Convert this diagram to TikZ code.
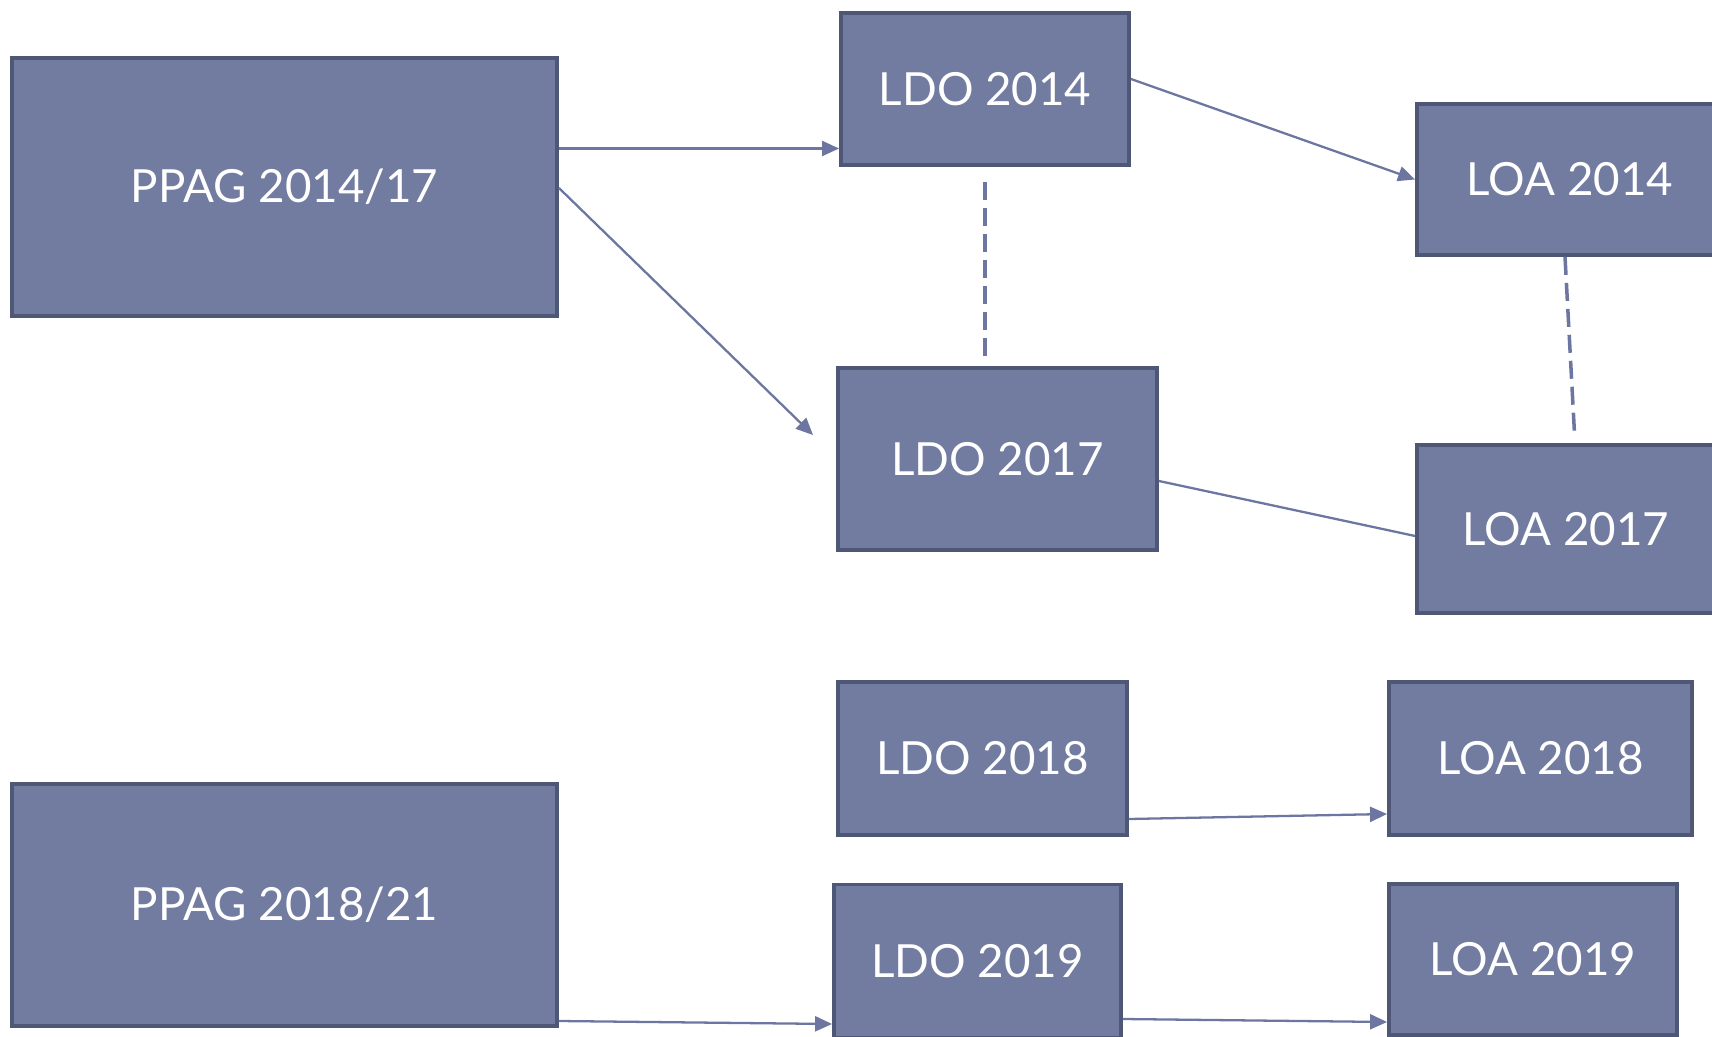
\documentclass[tikz,border=0pt]{standalone}
\usepackage{fontspec}
\setmainfont{Lato}
\usepackage{tikz}
\usetikzlibrary{arrows.meta, calc}
\definecolor{boxfill}{RGB}{114,123,160}
\definecolor{boxline}{RGB}{78,87,118}
\definecolor{linkcol}{RGB}{108,118,160}
\tikzset{>={Triangle[length=1.7mm, width=1.5mm]}}
\tikzset{
    planbox/.style={draw=boxline, fill=boxfill, line width=1.1pt, text=white,
        font=\fontsize{13}{16}\selectfont, inner sep=0pt},
    link/.style={draw=linkcol, line width=0.65pt},
    dashlink/.style={draw=linkcol, line width=1pt, dash pattern=on 1.8mm off 0.8mm}
}

\begin{document}
\begin{tikzpicture}
                \clip (0,0) rectangle (17.12,-10.37);

                \node[planbox, minimum width=5.45cm, minimum height=2.58cm] (ppag14) at (2.845,-1.87) {PPAG 2014/17};
                \node[planbox, minimum width=5.45cm, minimum height=2.42cm] (ppag18) at (2.845,-9.05) {PPAG 2018/21};

                \node[planbox, minimum width=2.88cm, minimum height=1.52cm] (ldo14) at (9.85,-0.89) {LDO 2014};
                \node[planbox, minimum width=3.19cm, minimum height=1.82cm] (ldo17) at (9.975,-4.59) {LDO 2017};
                \node[planbox, minimum width=2.89cm, minimum height=1.53cm] (ldo18) at (9.825,-7.585) {LDO 2018};
                \node[planbox, minimum width=2.87cm, minimum height=1.53cm] (ldo19) at (9.775,-9.61) {LDO 2019};

                \node[planbox, minimum width=3.06cm, minimum height=1.51cm] (loa14) at (15.70,-1.795) {LOA 2014};
                \node[planbox, minimum width=2.98cm, minimum height=1.68cm] (loa17) at (15.66,-5.29) {LOA 2017};
                \node[planbox, minimum width=3.03cm, minimum height=1.53cm] (loa18) at (15.405,-7.585) {LOA 2018};
                \node[planbox, minimum width=2.88cm, minimum height=1.51cm] (loa19) at (15.33,-9.595) {LOA 2019};

                \coordinate (tip17) at (8.13,-4.35);

                \draw[link, ->] ([yshift=0.385cm]ppag14.east) -- ([yshift=-0.595cm]ldo14.west);
                \draw[link, ->] ([yshift=-0.01cm]ppag14.east) -- (tip17);
                \draw[link, ->] ([yshift=0.10cm]ldo14.east) -- (loa14.west);
                \draw[link] ([yshift=-0.22cm]ldo17.east) -- ([yshift=-0.07cm]loa17.west);
                \draw[link, ->] ([yshift=-0.605cm]ldo18.east) -- ([yshift=-0.555cm]loa18.west);
                \draw[link, ->] ([yshift=-1.16cm]ppag18.east) -- ([yshift=-0.63cm]ldo19.west);
                \draw[link, ->] ([yshift=-0.58cm]ldo19.east) -- ([yshift=-0.625cm]loa19.west);

                \draw[dashlink, shorten <=1.5mm, shorten >=0.4mm] (ldo14.south) -- (ldo14.south |- ldo17.north);
                \draw[dashlink, shorten >=0.6mm] ([xshift=-0.05cm]loa14.south) -- ([xshift=0.09cm]loa17.north);

            \end{tikzpicture}
\end{document}
